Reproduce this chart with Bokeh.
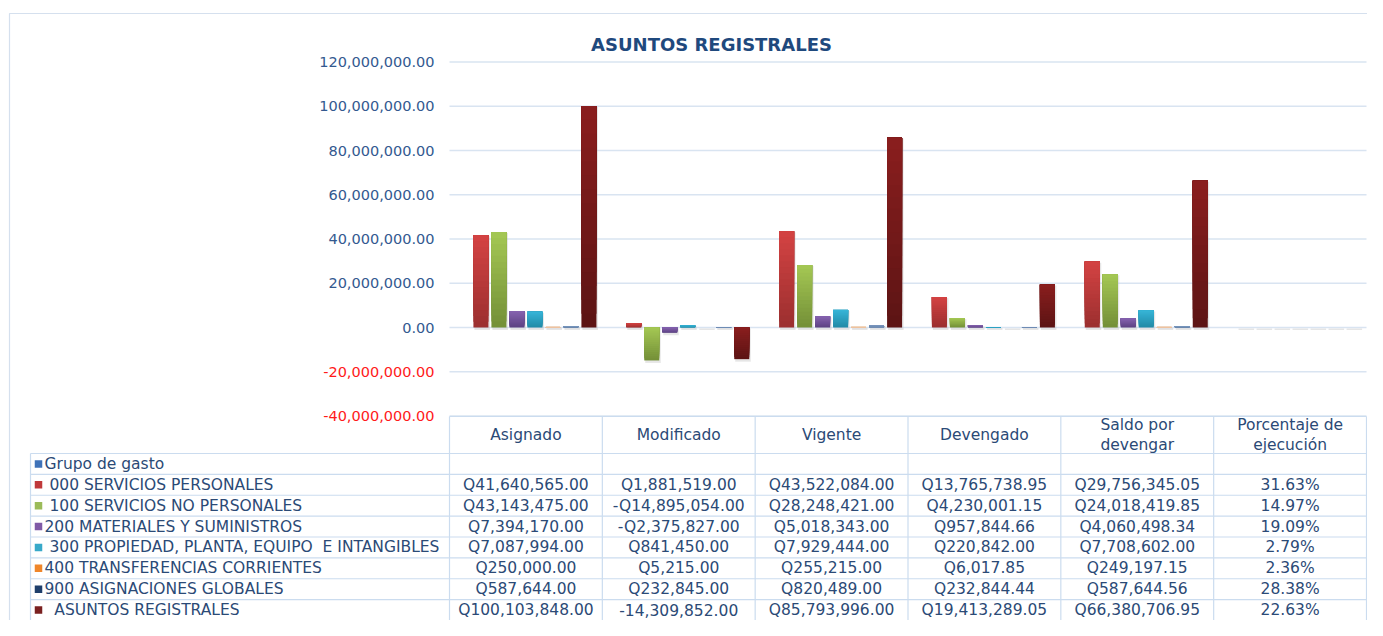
from bokeh.plotting import figure
from bokeh.models import Range1d, ColumnDataSource
from bokeh.embed import file_html
from bokeh.resources import INLINE
from bokeh.core.properties import value

# ---------------- data ----------------
title_text = "ASUNTOS REGISTRALES"
categories = ["Asignado", "Modificado", "Vigente", "Devengado",
              "Saldo por\ndevengar", "Porcentaje de\nejecución"]

series_names = ["Grupo de gasto",
                "\u00a0000 SERVICIOS PERSONALES",
                "\u00a0100 SERVICIOS NO PERSONALES",
                "200 MATERIALES Y SUMINISTROS",
                "\u00a0300 PROPIEDAD, PLANTA, EQUIPO\u00a0 E INTANGIBLES",
                "400 TRANSFERENCIAS CORRIENTES",
                "900 ASIGNACIONES GLOBALES",
                "\u00a0\u00a0ASUNTOS REGISTRALES"]

grupo_de_gasto = [None, None, None, None, None, None]
serv_personales = [41640565.00, 1881519.00, 43522084.00, 13765738.95, 29756345.05, 0.3163]
serv_no_personales = [43143475.00, -14895054.00, 28248421.00, 4230001.15, 24018419.85, 0.1497]
materiales = [7394170.00, -2375827.00, 5018343.00, 957844.66, 4060498.34, 0.1909]
propiedad = [7087994.00, 841450.00, 7929444.00, 220842.00, 7708602.00, 0.0279]
transferencias = [250000.00, 5215.00, 255215.00, 6017.85, 249197.15, 0.0236]
asignaciones = [587644.00, 232845.00, 820489.00, 232844.44, 587644.56, 0.2838]
asuntos = [100103848.00, -14309852.00, 85793996.00, 19413289.05, 66380706.95, 0.2263]

series_values = [grupo_de_gasto, serv_personales, serv_no_personales, materiales,
                 propiedad, transferencias, asignaciones, asuntos]

table_text = [
    ["", "", "", "", "", ""],
    ["Q41,640,565.00", "Q1,881,519.00", "Q43,522,084.00", "Q13,765,738.95", "Q29,756,345.05", "31.63%"],
    ["Q43,143,475.00", "-Q14,895,054.00", "Q28,248,421.00", "Q4,230,001.15", "Q24,018,419.85", "14.97%"],
    ["Q7,394,170.00", "-Q2,375,827.00", "Q5,018,343.00", "Q957,844.66", "Q4,060,498.34", "19.09%"],
    ["Q7,087,994.00", "Q841,450.00", "Q7,929,444.00", "Q220,842.00", "Q7,708,602.00", "2.79%"],
    ["Q250,000.00", "Q5,215.00", "Q255,215.00", "Q6,017.85", "Q249,197.15", "2.36%"],
    ["Q587,644.00", "Q232,845.00", "Q820,489.00", "Q232,844.44", "Q587,644.56", "28.38%"],
    ["Q100,103,848.00", "-14,309,852.00", "Q85,793,996.00", "Q19,413,289.05", "Q66,380,706.95", "22.63%"],
]

y_ticks = [-40000000, -20000000, 0, 20000000, 40000000, 60000000, 80000000, 100000000, 120000000]

# ---------------- styles ----------------
legend_colors = ["#3f72b8", "#c0393b", "#9bbb59", "#7f5aa6", "#38a9c9", "#f0862a", "#1f3f6b", "#7a2020"]
grad_colors = [("#4f81bd", "#2c5a96"),
               ("#d44343", "#9b2f2f"),
               ("#a5c854", "#738f37"),
               ("#8763b0", "#5c4282"),
               ("#37b5d8", "#218aa6"),
               ("#f4c7a0", "#e8c0a0"),
               ("#7f9cc2", "#5a79a3"),
               ("#8a1e1e", "#5c1414")]
FONT = value("DejaVu Sans")
TEXT_COLOR = "#2b4a76"
TICK_COLOR = "#33598f"
NEG_COLOR = "#ff1a1a"
LINE_COLOR = "#cbdcef"
GRID_COLOR = "#d9e4f1"

# ---------------- geometry (pixels) ----------------
FW, FH = 1367, 620
PLOT_L, PLOT_R = 449, 1366
ZERO_Y = 327
PX_PER_UNIT = 44.25 / 20000000
ncat = len(categories)
cat_w = (PLOT_R - PLOT_L) / ncat

x_lo = (0 - PLOT_L) / cat_w - 0.5
x_hi = (FW - PLOT_L) / cat_w - 0.5
y_hi = ZERO_Y / PX_PER_UNIT
y_lo = -(FH - ZERO_Y) / PX_PER_UNIT

p = figure(width=FW, height=FH, x_range=Range1d(x_lo, x_hi), y_range=Range1d(y_lo, y_hi),
           output_backend="svg", toolbar_location=None,
           x_axis_location=None, y_axis_location=None, min_border=0,
           outline_line_color=None, background_fill_color="white", border_fill_color="white")
p.grid.visible = False
p.extra_x_ranges = {"px": Range1d(0, FW)}
p.extra_y_ranges = {"px": Range1d(FH, 0)}

# outer border
p.quad(left=[9], right=[1500], top=[13], bottom=[800], fill_color=None,
       line_color="#d5e0ee", line_width=1.2, x_range_name="px", y_range_name="px")

# title
p.text(x=[711], y=[44], text=[title_text], x_range_name="px", y_range_name="px",
       text_font=FONT, text_font_style="bold", text_font_size="18px",
       text_color="#1f497d", text_align="center", text_baseline="middle")

# gridlines
p.segment(x0=[-0.5] * len(y_ticks), x1=[ncat - 0.5] * len(y_ticks), y0=y_ticks, y1=y_ticks,
          line_color=GRID_COLOR, line_width=1.5)

# y tick labels
tick_src = ColumnDataSource(dict(
    x=[434] * len(y_ticks), y=y_ticks,
    text=[f"{t:,.2f}" for t in y_ticks],
    color=[NEG_COLOR if t < 0 else TICK_COLOR for t in y_ticks]))
p.text(x="x", y="y", text="text", text_color="color", source=tick_src, x_range_name="px",
       text_font=FONT, text_font_size="14.5px", text_align="right", text_baseline="middle")

# bars with vertical gradient (overlapping layers: dark at bottom, light at top)
nser = len(series_names)
slot_w = 18 / cat_w
bar_w = 15 / cat_w
one_px_x = 1 / cat_w
one_px_y = 1 / PX_PER_UNIT


def lerp(c1, c2, t):
    a = [int(c1[i:i + 2], 16) for i in (1, 3, 5)]
    b = [int(c2[i:i + 2], 16) for i in (1, 3, 5)]
    return "#%02x%02x%02x" % tuple(int(round(a[k] + (b[k] - a[k]) * t)) for k in range(3))


sh = dict(left=[], right=[], top=[], bottom=[])
bars = dict(left=[], right=[], top=[], bottom=[], color=[])
NSL = 16
for j, vals in enumerate(series_values):
    light, dark = grad_colors[j]
    for i, v in enumerate(vals):
        if v is None:
            continue
        xc = i + (j - (nser - 1) / 2) * slot_w
        lo, hi = min(0, v), max(0, v)
        sh["left"].append(xc - bar_w / 2 + one_px_x)
        sh["right"].append(xc + bar_w / 2 + 1.5 * one_px_x)
        sh["top"].append(hi - one_px_y)
        sh["bottom"].append(lo - 2.5 * one_px_y)
        if hi - lo <= 0:
            continue
        for s in range(NSL):
            bars["left"].append(xc - bar_w / 2)
            bars["right"].append(xc + bar_w / 2)
            bars["bottom"].append(lo + (hi - lo) * s / NSL)
            bars["top"].append(hi)
            bars["color"].append(lerp(dark, light, (s + 0.5) / NSL))

p.quad(source=ColumnDataSource(sh), left="left", right="right", top="top", bottom="bottom",
       fill_color="#b8b8b8", fill_alpha=0.35, line_color=None)
p.quad(source=ColumnDataSource(bars), left="left", right="right", top="top", bottom="bottom",
       fill_color="color", line_color=None)

# ---------------- data table ----------------
HEAD_T, HEAD_B = 416, 453
ROW_H = (FH - HEAD_B) / 8
TBL_L = 30
nrows = len(series_names)
row_tops = [HEAD_B + k * ROW_H for k in range(nrows + 1)]
row_mid = [HEAD_B + (k + 0.5) * ROW_H for k in range(nrows)]
BOTTOM = 800

xb = [k - 0.5 for k in range(ncat + 1)]
p.segment(x0=xb, x1=xb, y0=[HEAD_T] * len(xb), y1=[BOTTOM] * len(xb), y_range_name="px",
          line_color=LINE_COLOR, line_width=1.2)
p.segment(x0=[TBL_L], x1=[TBL_L], y0=[HEAD_B], y1=[BOTTOM], x_range_name="px", y_range_name="px",
          line_color=LINE_COLOR, line_width=1.2)
p.segment(x0=[-0.5], x1=[ncat - 0.5], y0=[HEAD_T], y1=[HEAD_T], y_range_name="px",
          line_color=LINE_COLOR, line_width=1.2)
p.segment(x0=[TBL_L] * len(row_tops), x1=[PLOT_R] * len(row_tops), y0=row_tops, y1=row_tops,
          x_range_name="px", y_range_name="px", line_color=LINE_COLOR, line_width=1.2)

# header labels
p.text(x=list(range(ncat)), y=[(HEAD_T + HEAD_B) / 2] * ncat, text=categories, y_range_name="px",
       text_font=FONT, text_font_size="15.5px", text_color=TEXT_COLOR,
       text_align="center", text_baseline="middle", text_line_height=1.1)

# legend squares and row labels
p.scatter(x=[38] * nrows, y=row_mid, marker="square", size=7.5, fill_color=legend_colors,
          line_color=None, x_range_name="px", y_range_name="px")
p.text(x=[44] * nrows, y=row_mid, text=series_names, x_range_name="px", y_range_name="px",
       text_font=FONT, text_font_size="15.5px", text_color=TEXT_COLOR,
       text_align="left", text_baseline="middle")

# cell values
cx, cy, ct = [], [], []
for r, row in enumerate(table_text):
    for i, t in enumerate(row):
        if t:
            cx.append(i)
            cy.append(row_mid[r])
            ct.append(t)
p.text(x=cx, y=cy, text=ct, y_range_name="px",
       text_font=FONT, text_font_size="15.5px", text_color=TEXT_COLOR,
       text_align="center", text_baseline="middle")

open("out.html", "w").write(file_html(p, INLINE))
